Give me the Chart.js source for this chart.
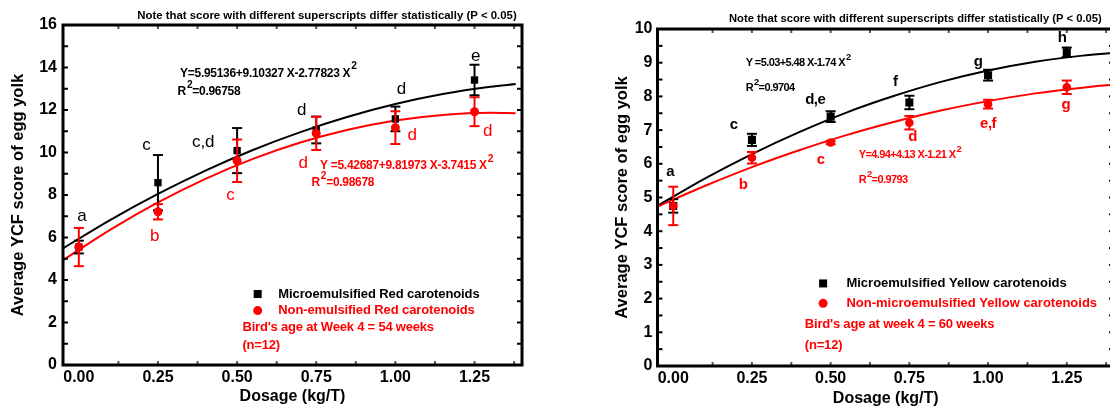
<!DOCTYPE html>
<html>
<head>
<meta charset="utf-8">
<title>YCF score of egg yolk</title>
<script src="https://cdn.jsdelivr.net/npm/chart.js@4.4.1/dist/chart.umd.min.js"></script>
<style>
	html, body { margin: 0; padding: 0; background: #fff; overflow: hidden; }
	body { width: 1110px; height: 410px; position: relative; }
	#redChart { position: absolute; left: 0; top: 0; }
	#yellowChart { position: absolute; left: 600px; top: 0; }
</style>
</head>
<body>
<canvas id="redChart" width="590" height="410"></canvas>
<canvas id="yellowChart" width="530" height="410"></canvas>
<script>
// Data
// --------------------------------------------------------------------
const dosage = [0, 0.25, 0.5, 0.75, 1.0, 1.25];
const xTicks = [0, 0.25, 0.5, 0.75, 1.0, 1.25];

// red carotenoids (week 4, 54 weeks)
const redMicroMean = [5.55, 8.58, 10.09, 11.06, 11.58, 13.41];
const redMicroErr = [0.3, 1.3, 1.06, 0.63, 0.58, 0.72];
const redNonMean = [5.55, 7.21, 9.61, 10.9, 11.17, 11.92];
const redNonErr = [0.9, 0.36, 1.0, 0.78, 0.77, 0.68];
const redMicroTags = ['a', 'c', 'c,d', 'd', 'd', 'e'];
const redNonTags = ['', 'b', 'c', 'd', 'd', 'd'];
const redYTicks = [0, 2, 4, 6, 8, 10, 12, 14, 16];
// fitted lines
const redFitX = [-0.05, 0.1, 0.25, 0.4, 0.55, 0.7, 0.85, 1.0, 1.15, 1.3, 1.38];
const redMicroFit = [5.49, 6.83, 8.05, 9.15, 10.12, 10.96, 11.68, 12.28, 12.75, 13.09, 13.22];
const redNonFit = [4.93, 6.37, 7.65, 8.76, 9.70, 10.47, 11.07, 11.51, 11.77, 11.87, 11.85];
const redLegend = ['Microemulsified Red carotenoids', 'Non-emulsified Red carotenoids'];
const redInfo = ["Bird's age at Week 4 = 54 weeks", '(n=12)'];

// yellow carotenoids (week 4, 60 weeks)
const yellowMicroMean = [4.75, 6.71, 7.4, 7.82, 8.63, 9.31];
const yellowMicroErr = [0.2, 0.18, 0.16, 0.2, 0.16, 0.14];
const yellowNonMean = [4.75, 6.18, 6.63, 7.22, 7.77, 8.27];
const yellowNonErr = [0.57, 0.17, 0.05, 0.2, 0.13, 0.2];
const yellowMicroTags = ['a', 'c', 'd,e', 'f', 'g', 'h'];
const yellowNonTags = ['', 'b', 'c', 'd', 'e,f', 'g'];
const yellowYTicks = [0, 1, 2, 3, 4, 5, 6, 7, 8, 9, 10];
const yellowFitX = [-0.05, 0.1, 0.25, 0.4, 0.55, 0.7, 0.85, 1.0, 1.15, 1.3, 1.4];
const yellowMicroFit = [4.75, 5.56, 6.29, 6.94, 7.52, 8.01, 8.43, 8.77, 9.03, 9.21, 9.29];
const yellowNonFit = [4.73, 5.34, 5.90, 6.40, 6.85, 7.24, 7.58, 7.86, 8.09, 8.26, 8.35];
const yellowLegend = ['Microemulsified Yellow carotenoids', 'Non-microemulsified Yellow carotenoids'];
const yellowInfo = ["Bird's age at week 4 = 60 weeks", '(n=12)'];

const noteText = 'Note that score with different superscripts differ statistically (P < 0.05)';

document.addEventListener('DOMContentLoaded', function() {
	// Color Variables
	const blackColor = '#000000',
		redColor = '#ff0000',
		tickGrey = '#555555';
	const fontFamily = "'Liberation Sans', Arial, sans-serif";

	Chart.defaults.font.family = fontFamily;
	Chart.defaults.color = blackColor;

	function pts(xs, ys) {
		return xs.map(function(x, i) { return { x: x, y: ys[i] }; });
	}

	function line(ctx, x1, y1, x2, y2) {
		ctx.beginPath();
		ctx.moveTo(x1, y1);
		ctx.lineTo(x2, y2);
		ctx.stroke();
	}

	// text with "^" marking a one character superscript
	function drawRich(ctx, x, y, text, size, spacing) {
		const parts = text.split('^');
		let cx = x;
		ctx.letterSpacing = spacing + 'px';
		parts.forEach(function(part, i) {
			let body = part;
			if (i > 0) {
				const sup = part.charAt(0);
				body = part.slice(1);
				ctx.font = 'bold ' + (size * 0.85) + 'px ' + fontFamily;
				ctx.fillText(sup, cx + 1, y - size * 0.55);
				cx += ctx.measureText(sup).width + 1;
			}
			ctx.font = 'bold ' + size + 'px ' + fontFamily;
			ctx.fillText(body, cx, y);
			cx += ctx.measureText(body).width;
		});
	}

	// error bars, frame, inward ticks and all the notes on the plot
	function decorations(p) {
		return {
			id: 'decorations',
			beforeDatasetDraw: function(chart, args) {
				const ds = chart.data.datasets[args.index];
				if (!ds.errors) return;
				const ctx = chart.ctx, xs = chart.scales.x, ys = chart.scales.y;
				ctx.save();
				ctx.strokeStyle = ds.borderColor;
				ctx.lineWidth = 2;
				ds.data.forEach(function(pt, i) {
					const px = xs.getPixelForValue(pt.x);
					const top = ys.getPixelForValue(pt.y + ds.errors[i]);
					const bot = ys.getPixelForValue(pt.y - ds.errors[i]);
					line(ctx, px, top, px, bot);
					line(ctx, px - 5, top, px + 5, top);
					line(ctx, px - 5, bot, px + 5, bot);
				});
				ctx.restore();
			},
			afterDraw: function(chart) {
				const ctx = chart.ctx, a = chart.chartArea, xs = chart.scales.x, ys = chart.scales.y;
				ctx.save();

				// inward ticks
				ctx.lineWidth = 2;
				ctx.strokeStyle = blackColor;
				for (let v = 0; v <= ys.max + 1e-9; v += p.yMinor) {
					const y = ys.getPixelForValue(v);
					line(ctx, a.left, y, a.left + 5, y);
					line(ctx, a.right, y, a.right - 5, y);
				}
				ctx.strokeStyle = tickGrey;
				for (let v = 0.125; v < xs.max; v += 0.125) {
					const x = xs.getPixelForValue(v);
					line(ctx, x, a.top, x, a.top + 4);
					line(ctx, x, a.bottom, x, a.bottom - 4);
				}

				// frame
				ctx.strokeStyle = blackColor;
				ctx.lineWidth = 3;
				ctx.strokeRect(a.left, a.top, a.right - a.left, a.bottom - a.top);

				// note above the plot
				ctx.fillStyle = blackColor;
				ctx.textBaseline = 'middle';
				ctx.textAlign = 'center';
				ctx.font = 'bold ' + p.noteSize + 'px ' + fontFamily;
				ctx.fillText(noteText, xs.getPixelForValue(p.noteX), a.top - p.noteGap);

				// superscript letters
				ctx.font = p.tagFont + ' ' + fontFamily;
				ctx.letterSpacing = p.tagSpacing + 'px';
				[[p.microTags, p.microTagPos, blackColor], [p.nonTags, p.nonTagPos, redColor]].forEach(function(set) {
					ctx.fillStyle = set[2];
					set[0].forEach(function(tag, i) {
						if (!tag) return;
						const pos = set[1][i];
						ctx.fillText(tag, xs.getPixelForValue(pos[0]), ys.getPixelForValue(pos[1]));
					});
				});

				// regression equations
				ctx.textAlign = 'left';
				p.equations.forEach(function(eq) {
					ctx.fillStyle = eq.color;
					drawRich(ctx, xs.getPixelForValue(eq.x), ys.getPixelForValue(eq.y), eq.text, p.eqSize, p.eqSpacing);
				});

				// legend
				const mx = xs.getPixelForValue(p.legendMarkX);
				const tx = xs.getPixelForValue(p.legendTextX);
				const ly0 = ys.getPixelForValue(p.legendY[0]);
				const ly1 = ys.getPixelForValue(p.legendY[1]);
				ctx.fillStyle = blackColor;
				ctx.fillRect(mx - 4, ly0 - 4, 8, 8);
				ctx.fillStyle = redColor;
				ctx.beginPath();
				ctx.arc(mx, ly1, 4.5, 0, Math.PI * 2);
				ctx.fill();
				ctx.font = 'bold 13px ' + fontFamily;
				ctx.letterSpacing = p.legendSpacing + 'px';
				ctx.fillStyle = blackColor;
				ctx.fillText(p.legend[0], tx, ly0);
				ctx.fillStyle = redColor;
				ctx.fillText(p.legend[1], tx, ly1);
				ctx.letterSpacing = p.infoSpacing + 'px';
				p.info.forEach(function(txt, i) {
					ctx.fillText(txt, xs.getPixelForValue(p.infoX), ys.getPixelForValue(p.infoY[i]));
				});

				ctx.restore();
			}
		};
	}

	function buildPanel(id, p) {
		const canvas = document.getElementById(id);
		const W = canvas.width, H = canvas.height;
		return new Chart(canvas, {
			type: 'scatter',
			data: {
				datasets: [
					{
						data: pts(dosage, p.nonMean),
						errors: p.nonErr,
						pointStyle: 'circle',
						pointRadius: p.dot,
						pointBorderWidth: 0,
						pointBackgroundColor: redColor,
						backgroundColor: redColor,
						borderColor: redColor
					},
					{
						data: pts(dosage, p.microMean),
						errors: p.microErr,
						pointStyle: 'rect',
						pointRadius: p.square,
						pointBorderWidth: 0,
						pointBackgroundColor: blackColor,
						backgroundColor: blackColor,
						borderColor: blackColor
					},
					{
						data: pts(p.fitX, p.nonFit),
						showLine: true,
						pointRadius: 0,
						borderColor: redColor,
						borderWidth: 2,
						cubicInterpolationMode: 'monotone'
					},
					{
						data: pts(p.fitX, p.microFit),
						showLine: true,
						pointRadius: 0,
						borderColor: blackColor,
						borderWidth: 2,
						cubicInterpolationMode: 'monotone'
					}
				]
			},
			options: {
				responsive: false,
				animation: false,
				devicePixelRatio: 1,
				layout: {
					padding: { top: p.area.top, right: W - p.area.right, left: 0, bottom: 0 }
				},
				plugins: {
					legend: { display: false },
					tooltip: { enabled: false }
				},
				scales: {
					x: {
						type: 'linear',
						min: p.xMin,
						max: p.xMax,
						afterFit: function(s) { s.height = H - p.area.bottom; },
						afterBuildTicks: function(s) { s.ticks = xTicks.map(function(v) { return { value: v }; }); },
						grid: { display: false, drawTicks: false },
						border: { display: false },
						ticks: {
							autoSkip: false,
							maxRotation: 0,
							padding: 3,
							color: blackColor,
							font: { size: 16, weight: 'bold' },
							callback: function(v) { return Number(v).toFixed(2); }
						},
						title: {
							display: true,
							text: 'Dosage (kg/T)',
							color: blackColor,
							font: { size: 16, weight: 'bold' },
							padding: { top: 0, bottom: p.xTitlePad }
						}
					},
					y: {
						type: 'linear',
						min: 0,
						max: p.yMax,
						afterFit: function(s) { s.width = p.area.left; },
						afterBuildTicks: function(s) { s.ticks = p.yTicks.map(function(v) { return { value: v }; }); },
						grid: { display: false, drawTicks: false },
						border: { display: false },
						ticks: {
							autoSkip: false,
							padding: p.yTickPad,
							color: blackColor,
							font: { size: 16, weight: 'bold' },
							callback: function(v) { return String(v); }
						},
						title: {
							display: true,
							text: 'Average YCF score of egg yolk',
							color: blackColor,
							font: { size: 16.5, weight: 'bold' },
							padding: { top: p.yTitlePad, bottom: 0 }
						}
					}
				}
			},
			plugins: [decorations(p)]
		});
	}

	// Red carotenoids
	// --------------------------------------------------------------------
	buildPanel('redChart', {
		microMean: redMicroMean, microErr: redMicroErr,
		nonMean: redNonMean, nonErr: redNonErr,
		microTags: redMicroTags, nonTags: redNonTags,
		fitX: redFitX, microFit: redMicroFit, nonFit: redNonFit,
		yTicks: redYTicks, legend: redLegend, info: redInfo,
		xMin: -0.05, xMax: 1.4, yMax: 16, yMinor: 1,
		area: { left: 63, top: 25, right: 522, bottom: 365 },
		yTickPad: 6, yTitlePad: 9, xTitlePad: 4,
		square: 5.2, dot: 4.5,
		tagFont: 'normal 17px', tagSpacing: 0,
		microTagPos: [[0.01, 6.98], [0.214, 10.35], [0.393, 10.46], [0.704, 12.0], [1.019, 12.97], [1.254, 14.51]],
		nonTagPos: [null, [0.24, 6.07], [0.479, 8.0], [0.709, 9.49], [1.053, 10.82], [1.292, 10.98]],
		noteX: 0.784, noteGap: 9, noteSize: 11.4,
		eqSize: 12, eqSpacing: -0.3,
		equations: [
			{ x: 0.32, y: 13.73, text: 'Y=5.95136+9.10327 X-2.77823 X^2', color: blackColor },
			{ x: 0.312, y: 12.86, text: 'R^2=0.96758', color: blackColor },
			{ x: 0.762, y: 9.38, text: 'Y =5.42687+9.81973 X-3.7415 X^2', color: redColor },
			{ x: 0.735, y: 8.58, text: 'R^2=0.98678', color: redColor }
		],
		legendMarkX: 0.565, legendTextX: 0.63, legendY: [3.34, 2.56], legendSpacing: -0.1,
		infoX: 0.517, infoY: [1.76, 0.94], infoSpacing: -0.2
	});

	// Yellow carotenoids
	// --------------------------------------------------------------------
	buildPanel('yellowChart', {
		microMean: yellowMicroMean, microErr: yellowMicroErr,
		nonMean: yellowNonMean, nonErr: yellowNonErr,
		microTags: yellowMicroTags, nonTags: yellowNonTags,
		fitX: yellowFitX, microFit: yellowMicroFit, nonFit: yellowNonFit,
		yTicks: yellowYTicks, legend: yellowLegend, info: yellowInfo,
		xMin: -0.05, xMax: 1.4, yMax: 10, yMinor: 0.5,
		area: { left: 57.5, top: 29, right: 514, bottom: 366 },
		yTickPad: 5, yTitlePad: 13, xTitlePad: 2,
		square: 5.7, dot: 4.3,
		tagFont: 'bold 15px', tagSpacing: -0.5,
		microTagPos: [[-0.01, 5.77], [0.192, 7.15], [0.451, 7.89], [0.705, 8.44], [0.968, 9.03], [1.235, 9.75]],
		nonTagPos: [null, [0.222, 5.37], [0.468, 6.13], [0.76, 6.8], [1.0, 7.2], [1.247, 7.74]],
		noteX: 0.769, noteGap: 10, noteSize: 11.2,
		eqSize: 11, eqSpacing: -0.6,
		equations: [
			{ x: 0.23, y: 8.98, text: 'Y =5.03+5.48 X-1.74 X^2', color: blackColor },
			{ x: 0.23, y: 8.24, text: 'R^2=0.9704', color: blackColor },
			{ x: 0.589, y: 6.26, text: 'Y=4.94+4.13 X-1.21 X^2', color: redColor },
			{ x: 0.589, y: 5.52, text: 'R^2=0.9793', color: redColor }
		],
		legendMarkX: 0.476, legendTextX: 0.55, legendY: [2.45, 1.86], legendSpacing: 0,
		infoX: 0.418, infoY: [1.22, 0.62], infoSpacing: -0.2
	});
});
</script>
</body>
</html>
